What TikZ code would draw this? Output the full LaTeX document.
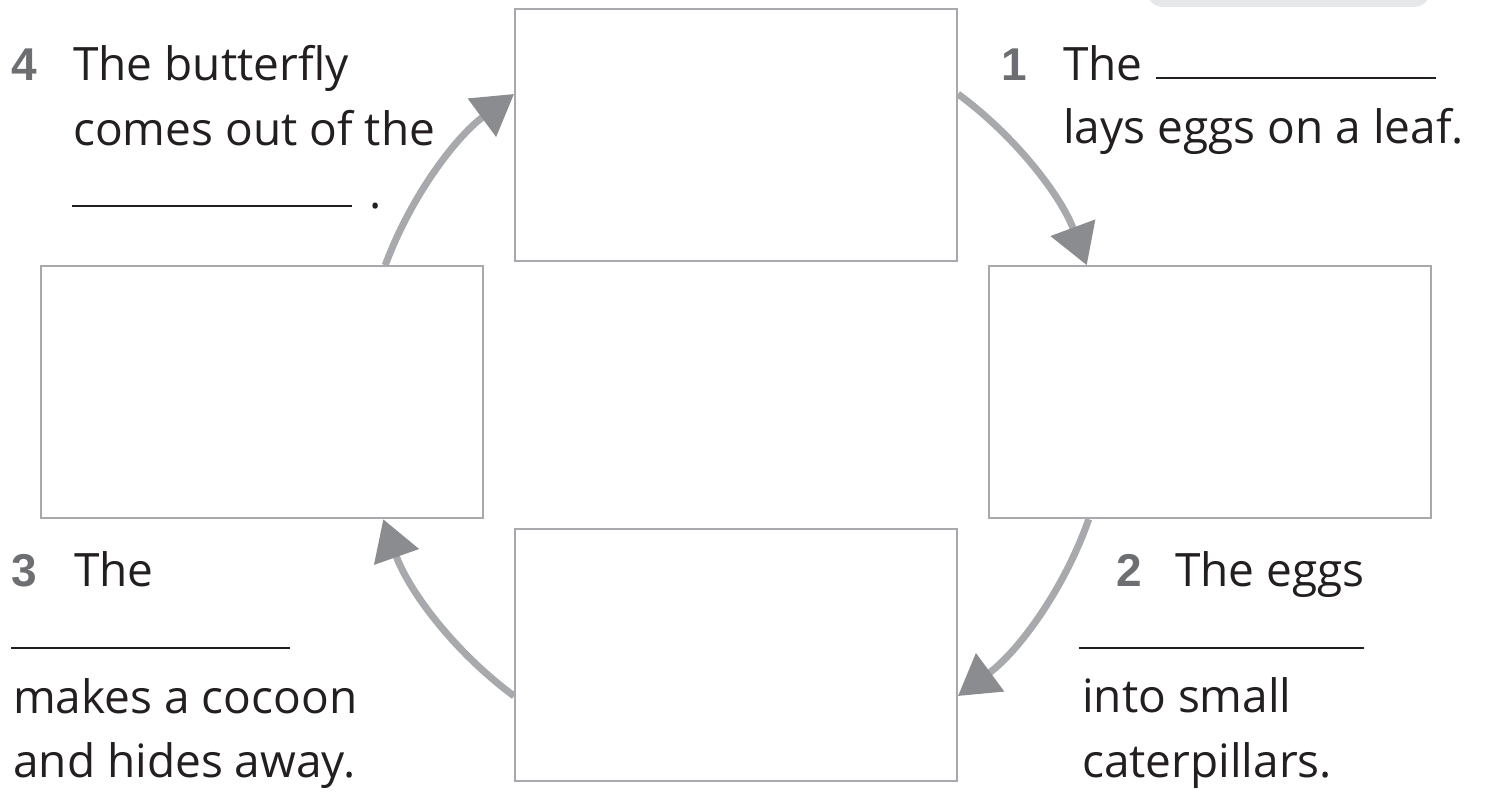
\documentclass[tikz,border=0pt]{standalone}
\usepackage{fontspec}
\setmainfont{Open Sans}
\newfontfamily\numfont{Liberation Sans}
\usetikzlibrary{arrows.meta,calc}
\definecolor{boxgray}{HTML}{A7A9AC}
\definecolor{arcgray}{HTML}{A7A9AC}
\definecolor{tipgray}{HTML}{8A8C8F}
\definecolor{numgray}{HTML}{6D6E71}
\definecolor{tabgray}{HTML}{E6E7E8}
\definecolor{txt}{HTML}{231F20}
\begin{document}
\begin{tikzpicture}[x=1pt,y=-1pt,
  stagebox/.style={draw=boxgray,line width=2pt,minimum width=442pt,minimum height=252pt,inner sep=0pt,fill=white},
  cyc/.style={draw=arcgray,line width=7pt,-{Triangle[length=40pt,width=46pt,color=tipgray]}},
  lbl/.style={anchor=base west,inner sep=0pt,text=txt,font=\fontsize{46}{52}\selectfont},
  num/.style={anchor=base west,inner sep=0pt,text=numgray,font=\numfont\bfseries\fontsize{46}{52}\selectfont},
  blank/.style={draw=txt,line width=1.6pt}]
\useasboundingbox (0,0) rectangle (1498,792);
\begin{scope}
\clip (0,0) rectangle (1498,792);
\fill[tabgray,rounded corners=16pt] (1147,-40) rectangle (1430,7);
\end{scope}
% boxes
\node[stagebox] (top) at (736,135) {};
\node[stagebox] (right) at (1209.5,392) {};
\node[stagebox] (left) at (262,392) {};
\node[stagebox] (bottom) at (736,655) {};
% cycle arrows
\coordinate (ctr) at (736,395);
\coordinate (a1s) at ($(ctr)+(53.6:374pt)$);
\coordinate (a2s) at ($(ctr)+(-19.4:374pt)$);
\coordinate (a3s) at ($(ctr)+(233.6:374pt)$);
\coordinate (a4s) at ($(ctr)+(159.7:374pt)$);
\draw[cyc] (a1s) arc[start angle=53.6,end angle=20.3,radius=374pt];
\draw[cyc] (a2s) arc[start angle=-19.4,end angle=-53.6,radius=374pt];
\draw[cyc] (a3s) arc[start angle=233.6,end angle=199.4,radius=374pt];
\draw[cyc] (a4s) arc[start angle=159.7,end angle=126.4,radius=374pt];
% text 4
\node[num] (n4) at (11,80) {4};
\node[lbl] (t4a) at (73,80) {The butterfly};
\node[lbl] (t4b) at (73,145) {comes out of the};
\coordinate (u4a) at (72,206);
\coordinate (u4b) at (352,206);
\draw[blank] (u4a) -- (u4b);
\node[lbl] (t4c) at (369,208) {.};
% text 1
\node[num] (n1) at (1001,80) {1};
\node[lbl] (t1a) at (1063,80) {The};
\coordinate (u1a) at (1156,78);
\coordinate (u1b) at (1436,78);
\draw[blank] (u1a) -- (u1b);
\node[lbl] (t1b) at (1063,143) {lays eggs on a leaf.};
% text 2
\node[num] (n2) at (1116,586) {2};
\node[lbl] (t2a) at (1175,586) {The eggs};
\coordinate (u2a) at (1079,648);
\coordinate (u2b) at (1364,648);
\draw[blank] (u2a) -- (u2b);
\node[lbl] (t2b) at (1082,712) {into small};
\node[lbl] (t2c) at (1082,777) {caterpillars.};
% text 3
\node[num] (n3) at (11,586) {3};
\node[lbl] (t3a) at (74,586) {The};
\coordinate (u3a) at (11,648);
\coordinate (u3b) at (290,648);
\draw[blank] (u3a) -- (u3b);
\node[lbl] (t3b) at (13,713) {makes a cocoon};
\node[lbl] (t3c) at (13,777) {and hides away.};
\end{tikzpicture}
\end{document}
